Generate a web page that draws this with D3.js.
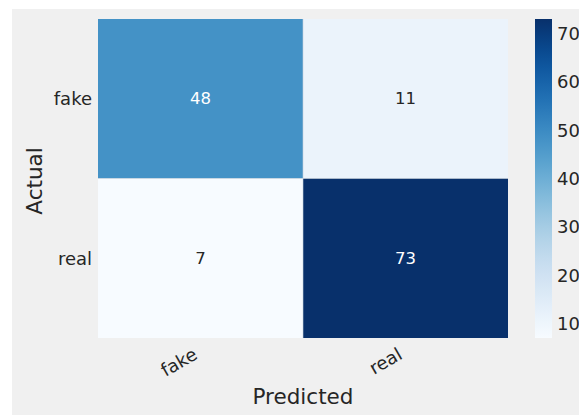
<!DOCTYPE html>
<html>
<head>
<meta charset="utf-8">
<script src="https://cdn.jsdelivr.net/npm/d3@7"></script>
<style>
  body { margin: 0; background: #fff; }
  text { font-family: "DejaVu Sans", sans-serif; fill: #262626; }
</style>
</head>
<body>
<svg id="chart" width="579" height="415"></svg>
<script>
const actualLabels = ['fake', 'real'];
const predictedLabels = ['fake', 'real'];
// rows = actual, cols = predicted
const counts = [
    [48, 11],
    [7, 73]
];
const colorbarTicks = [10, 20, 30, 40, 50, 60, 70];

let svg = d3.select('#chart');
svg.append('rect').attr('x', 12).attr('y', 9).attr('width', 579 - 12).attr('height', 415 - 9).style('fill', '#f0f0f0');

let x = d3.scaleBand().domain(predictedLabels).range([98, 508]);
let y = d3.scaleBand().domain(actualLabels).range([19, 338]);

let allValues = counts.flat();
let color = d3.scaleSequential(d3.interpolateBlues).domain([d3.min(allValues), d3.max(allValues)]);

let cells = [];
counts.forEach((row, i) => row.forEach((v, j) => cells.push({actual: actualLabels[i], predicted: predictedLabels[j], value: v})));

let main = svg.append('g').attr('class', 'heatmap');
let cellGroups = main.selectAll('g.cell').data(cells).enter().append('g').attr('class', 'cell');
cellGroups.append('rect')
    .attr('x', d => x(d.predicted))
    .attr('y', d => y(d.actual))
    .attr('width', x.bandwidth())
    .attr('height', y.bandwidth())
    .style('fill', d => color(d.value));

// thin seams between cells
main.append('line').attr('x1', x('real')).attr('x2', x('real')).attr('y1', 19).attr('y2', 338)
    .style('stroke', '#c8d2dc').style('stroke-opacity', 0.6);
main.append('line').attr('x1', 98).attr('x2', 508).attr('y1', y('real')).attr('y2', y('real'))
    .style('stroke', '#c8d2dc').style('stroke-opacity', 0.6);

cellGroups.append('text')
    .attr('x', d => x(d.predicted) + x.bandwidth() / 2)
    .attr('y', d => y(d.actual) + y.bandwidth() / 2)
    .attr('text-anchor', 'middle')
    .attr('dominant-baseline', 'central')
    .style('font-size', '16.5px')
    .style('fill', d => d3.hsl(color(d.value)).l < 0.6 ? '#ffffff' : '#262626')
    .text(d => d.value);

// tick labels
svg.selectAll('text.ytick').data(actualLabels).enter().append('text').attr('class', 'ytick')
    .attr('x', 92)
    .attr('y', d => y(d) + y.bandwidth() / 2)
    .attr('text-anchor', 'end')
    .attr('dominant-baseline', 'central')
    .style('font-size', '18px')
    .text(d => d);

svg.selectAll('text.xtick').data(predictedLabels).enter().append('text').attr('class', 'xtick')
    .attr('transform', d => 'translate(' + (x(d) + x.bandwidth() / 2 - 2) + ',358) rotate(-30)')
    .attr('text-anchor', 'end')
    .style('font-size', '18px')
    .text(d => d);

svg.append('text').attr('x', (98 + 508) / 2).attr('y', 404)
    .attr('text-anchor', 'middle').style('font-size', '21.5px').text('Predicted');
svg.append('text').attr('transform', 'translate(42,181) rotate(-90)')
    .attr('text-anchor', 'middle').style('font-size', '21.5px').text('Actual');

// colorbar
let cb = d3.scaleLinear().domain(color.domain()).range([338, 19]);
let grad = svg.append('defs').append('linearGradient').attr('id', 'cbgrad')
    .attr('x1', 0).attr('x2', 0).attr('y1', 1).attr('y2', 0);
d3.range(0, 1.0001, 0.05).forEach(t => {
    grad.append('stop').attr('offset', t).attr('stop-color', d3.interpolateBlues(t));
});
svg.append('rect').attr('x', 535).attr('y', 19).attr('width', 17).attr('height', 338 - 19)
    .style('fill', 'url(#cbgrad)');
svg.selectAll('text.cbtick').data(colorbarTicks).enter().append('text').attr('class', 'cbtick')
    .attr('x', 557)
    .attr('y', d => cb(d))
    .attr('dominant-baseline', 'central')
    .style('font-size', '18px')
    .text(d => d);
</script>
</body>
</html>
